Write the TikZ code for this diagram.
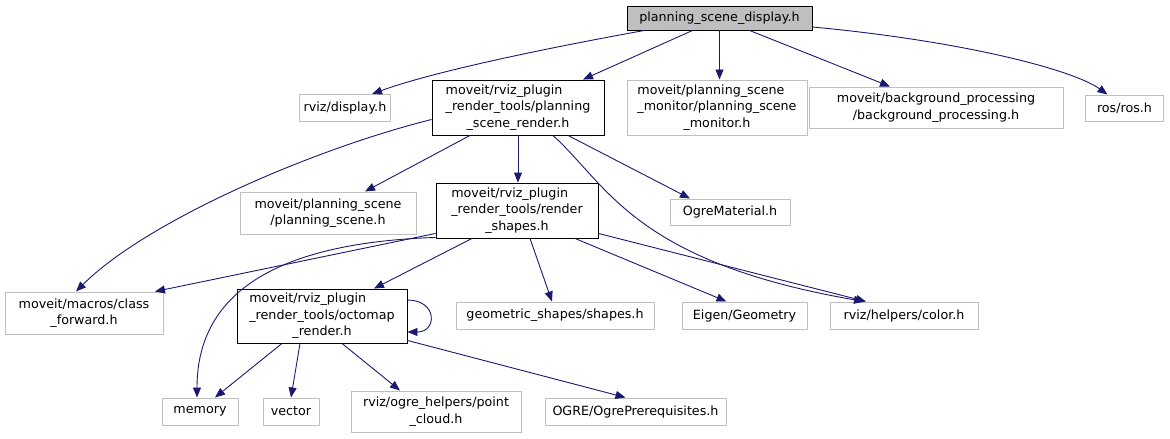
\documentclass[tikz,border=0pt]{standalone}
\usepackage{fontspec}
\setmainfont{DejaVu Sans}
\usepackage{tikz}
\usetikzlibrary{arrows.meta,calc}
\usepackage{xcolor}
\definecolor{edgeblue}{RGB}{25,25,112}
\definecolor{boxgray}{RGB}{191,191,191}
\newcommand{\twoline}[2]{\begin{tabular}{@{}l@{}}#1\\\multicolumn{1}{@{}c@{}}{#2}\end{tabular}}
\newcommand{\threeline}[3]{\begin{tabular}{@{}l@{}}#1\\#2\\\multicolumn{1}{@{}c@{}}{#3}\end{tabular}}

\begin{document}
\begin{tikzpicture}[x=1pt,y=-1pt,
    font=\fontsize{12.7}{16.5}\selectfont,
    every node/.style={inner sep=0pt,align=center},
    mainbox/.style={draw=black,fill=boxgray,line width=0.9pt},
    docbox/.style={draw=black,fill=white,line width=0.9pt},
    extbox/.style={draw=boxgray,fill=white,line width=1pt},
    dep/.style={draw=edgeblue,line width=0.9pt,-{Triangle[length=10pt,width=8pt]}}]
\useasboundingbox (0,0) rectangle (1170,439);

% row 1
\node[mainbox,minimum width=185pt,minimum height=24pt] (main) at (719.5,18) {planning\_scene\_display.h};

% row 2
\node[extbox,minimum width=91pt,minimum height=27pt] (disp) at (345,108) {rviz/display.h};
\node[docbox,minimum width=172pt,minimum height=55pt] (psrend) at (518,107.5)
    {\threeline{moveit/rviz\_plugin}{\_render\_tools/planning}{\_scene\_render.h}};
\node[extbox,minimum width=180pt,minimum height=55pt] (psmon) at (717,107.5)
    {\threeline{moveit/planning\_scene}{\_monitor/planning\_scene}{\_monitor.h}};
\node[extbox,minimum width=254pt,minimum height=41pt] (bg) at (936,107.5)
    {\twoline{moveit/background\_processing}{/background\_processing.h}};
\node[extbox,minimum width=78pt,minimum height=26pt] (ros) at (1124.5,108) {ros/ros.h};

% row 3
\node[extbox,minimum width=176pt,minimum height=42pt] (ps) at (328,213)
    {\twoline{moveit/planning\_scene}{/planning\_scene.h}};
\node[docbox,minimum width=162pt,minimum height=55pt] (rs) at (517,210.5)
    {\threeline{moveit/rviz\_plugin}{\_render\_tools/render}{\_shapes.h}};
\node[extbox,minimum width=120pt,minimum height=26pt] (ogm) at (730,212) {OgreMaterial.h};

% row 4
\node[extbox,minimum width=158pt,minimum height=42pt] (cf) at (84,313)
    {\twoline{moveit/macros/class}{\_forward.h}};
\node[docbox,minimum width=170pt,minimum height=54pt] (oct) at (322,316)
    {\threeline{moveit/rviz\_plugin}{\_render\_tools/octomap}{\_render.h}};
\node[extbox,minimum width=198pt,minimum height=27pt] (shp) at (555,315.5) {geometric\_shapes/shapes.h};
\node[extbox,minimum width=125pt,minimum height=27pt] (eig) at (744.5,315.5) {Eigen/Geometry};
\node[extbox,minimum width=148pt,minimum height=27pt] (col) at (904,315.5) {rviz/helpers/color.h};

% row 5
\node[extbox,minimum width=76pt,minimum height=27pt] (mem) at (200,411.5) {memory};
\node[extbox,minimum width=56pt,minimum height=27pt] (vec) at (291,411.5) {vector};
\node[extbox,minimum width=170pt,minimum height=41pt] (pc) at (436,411.5)
    {\twoline{rviz/ogre\_helpers/point}{\_cloud.h}};
\node[extbox,minimum width=181pt,minimum height=27pt] (ogp) at (635.5,411.5) {OGRE/OgrePrerequisites.h};

% edges from planning_scene_display.h
\draw[dep] ([xshift=-75pt]main.south) .. controls +(-100,18) and +(60,-22) .. ([xshift=27pt]disp.north);
\draw[dep] ([xshift=-27pt]main.south) -- ([xshift=65pt]psrend.north);
\draw[dep] (main.south) -- ([xshift=2.5pt]psmon.north);
\draw[dep] ([xshift=30pt]main.south) -- ([xshift=-46pt]bg.north);
\draw[dep] ([yshift=-9pt]main.east) .. controls +(150,14) and +(-35,-25) .. ([xshift=-17pt]ros.north);

% edges from planning_scene_render.h
\draw[dep] ([yshift=-12pt]psrend.west) .. controls +(-120,30) and +(70,-70) .. ([xshift=-8pt]cf.north);
\draw[dep] ([xshift=-48pt]psrend.south) -- ([xshift=37pt]ps.north);
\draw[dep] (psrend.south) -- ([xshift=1pt]rs.north);
\draw[dep] ([xshift=50pt]psrend.south) -- ([xshift=-40pt]ogm.north);
\draw[dep] ([xshift=35pt]psrend.south) .. controls +(55,50) and +(-230,-40) .. ([xshift=-40pt]col.north);

% edges from render_shapes.h
\draw[dep] ([yshift=5pt]rs.south west) -- ([xshift=71pt]cf.north);
\draw[dep] ([yshift=1pt]rs.south west) .. controls +(-150,5) and +(0,-110) .. ([xshift=-3pt]mem.north);
\draw[dep] ([xshift=-45pt]rs.south) -- ([xshift=52pt]oct.north);
\draw[dep] ([xshift=13pt]rs.south) -- ([xshift=-3pt]shp.north);
\draw[dep] ([xshift=58pt]rs.south) -- ([xshift=-18pt]eig.north);
\draw[dep] ([yshift=5pt]rs.south east) -- ([xshift=-38pt]col.north);

% edges from octomap_render.h
\draw[dep] ([yshift=16pt]oct.east) .. controls +(30,0) and +(30,0) .. ([yshift=-16pt]oct.east);
\draw[dep] ([xshift=-40pt]oct.south) -- ([xshift=15pt]mem.north);
\draw[dep] ([xshift=-22pt]oct.south) -- (vec.north);
\draw[dep] ([xshift=20pt]oct.south) -- ([xshift=-36pt]pc.north);
\draw[dep] ([yshift=3pt]oct.south east) -- ([xshift=-10pt]ogp.north);
\end{tikzpicture}
\end{document}
